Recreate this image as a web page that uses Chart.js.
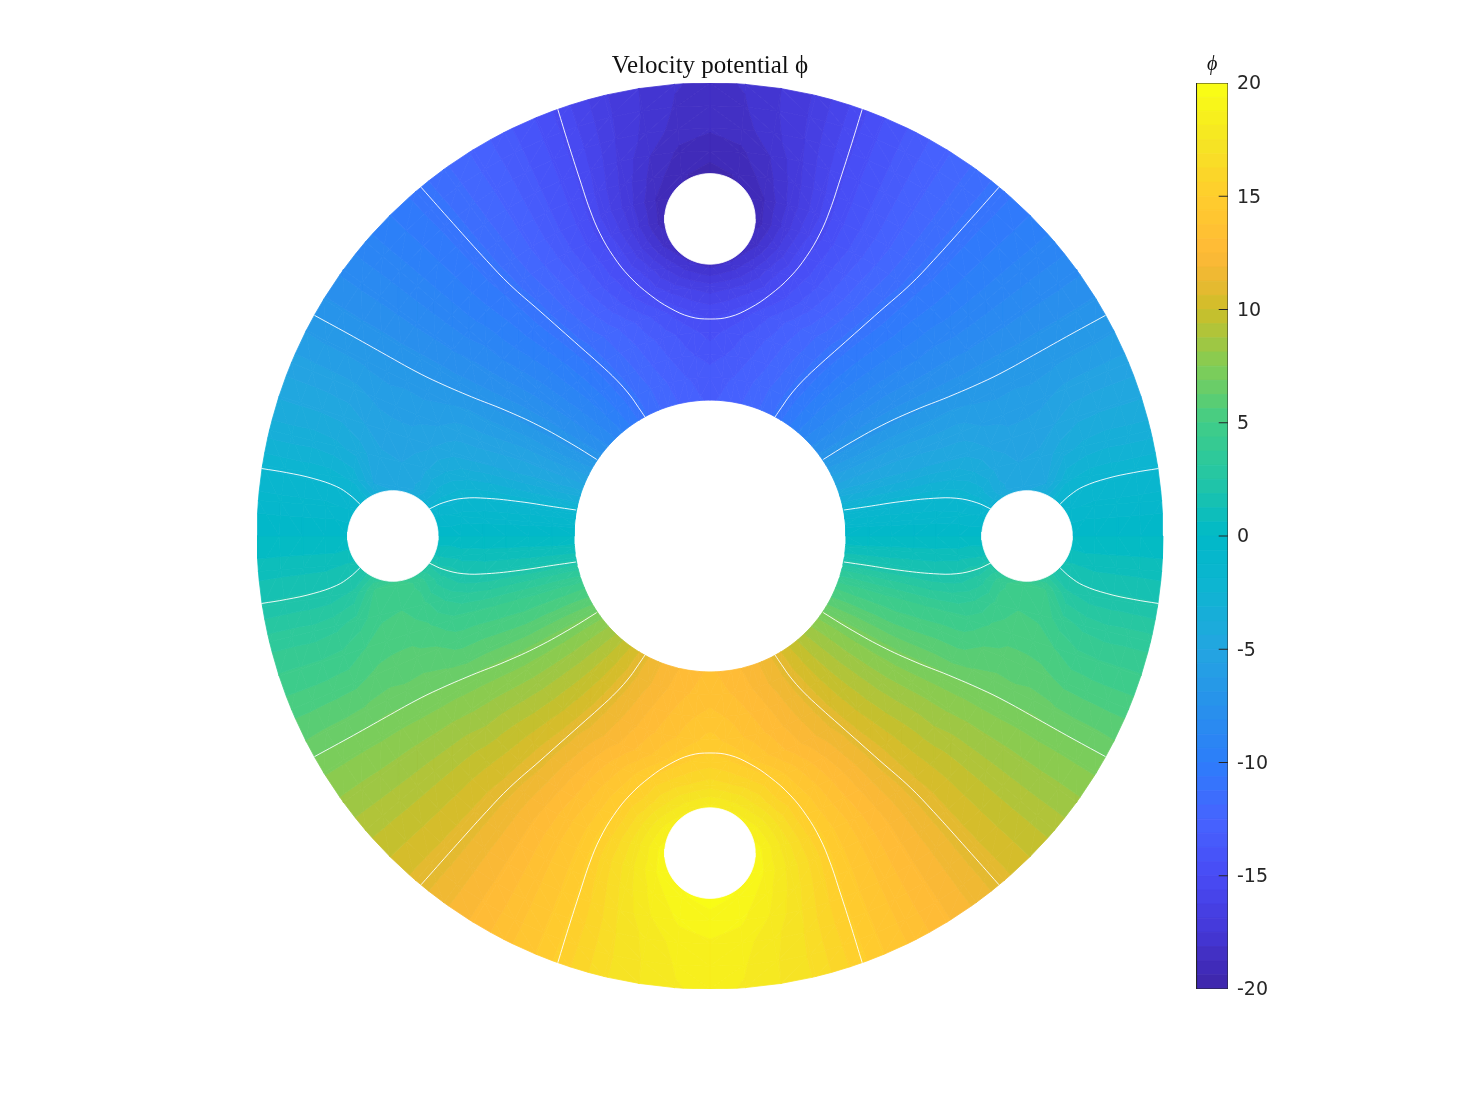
<!DOCTYPE html>
<html>
<head>
<meta charset="utf-8">
<title>Velocity potential</title>
<script src="https://cdn.jsdelivr.net/npm/chart.js@4"></script>
<style>
  html, body { margin: 0; background: #fff; }
  canvas { display: block; }
</style>
</head>
<body>
<canvas id="myChart" width="1420" height="1111"></canvas>
<script>
// polar mesh nodes of the top right quadrant, r and angle in degrees
const ringNodes = [3, 3.5, 4, 4.5, 5, 5.5, 6, 6.5, 7, 7.5, 8, 8.5, 9, 9.5, 10];
const angleNodes = [0, 4.5, 9, 13.5, 18, 22.5, 27, 31.5, 36, 40.5, 45, 49.5, 54, 58.5, 63, 67.5, 72, 76.5, 81, 85.5, 90];

// phi, one row per ring (inner to outer), one column per angle
const phiTable = [
  [0, -.78, -1.56, -2.9, -4, -5, -5.7, -6.5, -7.32, -7.96, -8.6, -9.28, -9.96, -10.64, -11.24, -11.72, -12.12, -12.48, -12.8, -13.04, -13.24],
  [0, -.8, -1.62, -3, -4.2, -5.05, -5.85, -6.7, -7.44, -8.12, -8.76, -9.4, -10.08, -10.72, -11.32, -11.8, -12.28, -12.68, -13.04, -13.28, -13.48],
  [0, -.84, -1.65, -3.05, -4.25, -5.1, -5.9, -6.81, -7.52, -8.2, -8.88, -9.56, -10.24, -10.92, -11.52, -12.08, -12.6, -13.04, -13.44, -13.76, -13.96],
  [0, -.86, -1.71, -3.1, -4.35, -5.1, -5.9, -6.87, -7.6, -8.32, -9.04, -9.72, -10.44, -11.12, -11.76, -12.32, -12.88, -13.36, -13.8, -14.24, -14.6],
  [0, -.89, -1.75, -3.1, -4.4, -5.2, -6, -6.94, -7.7, -8.44, -9.18, -9.92, -10.68, -11.36, -12.04, -12.68, -13.32, -13.96, -14.6, -15.1, -15.35],
  [0, -.99, -1.96, -3.25, -4.5, -5.3, -6.1, -7.08, -7.84, -8.6, -9.36, -10.16, -10.92, -11.76, -12.6, -13.44, -14.28, -15.1, -15.8, -16.3, -16.6],
  [0, -1.33, -2.7, -3.7, -4.6, -5.3, -6.1, -7.2, -7.96, -8.76, -9.56, -10.36, -11.16, -12.08, -13, -13.92, -14.8, -15.85, -17, -17.9, -18.4],
  [0, -1.9, -4.2, -4.6, -5.1, -5.7, -6.3, -7.28, -8.04, -8.8, -9.68, -10.48, -11.32, -12.28, -13.24, -14.2, -15.25, -16.75, -18.2, -19.2, -19.3],
  [0, -2.03, -4.9, -5, -5.4, -5.85, -6.45, -7.32, -8.16, -9, -9.8, -10.6, -11.52, -12.48, -13.48, -14.48, -15.7, -17.25, -18.9, -19.5, -19.6],
  [0, -1.9, -4.4, -4.85, -5.35, -5.85, -6.4, -7.36, -8.2, -9.04, -9.88, -10.72, -11.6, -12.6, -13.56, -14.52, -15.9, -17.35, -18.8, -19.5, -19.8],
  [0, -1.33, -2.6, -4, -5, -5.75, -6.5, -7.41, -8.24, -9.07, -9.9, -10.74, -11.64, -12.6, -13.56, -14.5, -15.8, -17.2, -18.4, -19.3, -19.6],
  [0, -1.08, -2.16, -3.55, -4.55, -5.45, -6.4, -7.41, -8.25, -9.08, -9.92, -10.76, -11.68, -12.6, -13.54, -14.46, -15.65, -17, -18.1, -18.9, -19.15],
  [0, -1.05, -2.09, -3.4, -4.45, -5.4, -6.35, -7.43, -8.26, -9.1, -9.94, -10.78, -11.69, -12.6, -13.52, -14.44, -15.6, -16.85, -17.7, -18.4, -18.65],
  [0, -1.03, -2.05, -3.44, -4.45, -5.37, -6.35, -7.43, -8.28, -9.12, -9.97, -10.82, -11.7, -12.62, -13.51, -14.43, -15.6, -16.8, -17.55, -18.2, -18.45],
  [0, -.99, -2, -3.44, -4.45, -5.37, -6.3, -7.43, -8.28, -9.14, -9.98, -10.83, -11.72, -12.62, -13.52, -14.42, -15.6, -16.8, -17.5, -18.07, -18.3]
];

// white lines in the top right quadrant, [x, y]
const lineLoop = [[3.36, 9.42], [3.13, 8.67], [2.87, 7.86], [2.65, 7.2], [2.43, 6.68], [2.13, 6.17], [1.77, 5.72], [1.32, 5.32], [0.88, 5.03], [0.44, 4.84], [0, 4.79]];
const lineUpper = [[6.38, 7.70], [5.67, 6.90], [4.93, 6.08], [4.42, 5.55], [3.75, 4.96], [3.31, 4.57], [2.87, 4.18], [2.43, 3.79], [2.06, 3.44], [1.77, 3.11], [1.58, 2.84], [1.43, 2.62]];
const lineMiddle = [[8.73, 4.87], [7.87, 4.40], [7.14, 3.99], [6.49, 3.63], [6.0, 3.39], [5.26, 3.07], [4.53, 2.78], [3.79, 2.44], [3.05, 2.03], [2.50, 1.69]];
const lineOuterHole = [[9.90, 1.49], [9.35, 1.40], [8.76, 1.27], [8.24, 1.09], [7.95, 0.905], [7.73, 0.706]];
const lineInnerHole = [[2.96, 0.574], [3.46, 0.647], [4.19, 0.757], [4.93, 0.832], [5.45, 0.832], [5.89, 0.735], [6.20, 0.596]];

// holes: centre x, centre y, radius
const holes = [[0, 7, 1], [0, -7, 1], [7, 0, 1], [-7, 0, 1]];

const barTicks = [-20, -15, -10, -5, 0, 5, 10, 15, 20];
const barBands = 64;
const cmapValues = [-20, -18.75, -17.5, -15, -12.5, -10, -7.5, -5, -2.5, 0, 2.5, 5, 7.5, 10, 11.25, 12.5, 15, 17.5, 20];
const cmapColors = [
  [62, 38, 168], [65, 45, 190], [68, 55, 215], [72, 75, 245], [70, 100, 255], [45, 125, 250], [40, 145, 235],
  [35, 165, 225], [15, 180, 210], [0, 185, 200], [35, 198, 165], [65, 205, 135], [130, 205, 85], [205, 190, 40],
  [235, 185, 50], [255, 185, 55], [255, 205, 45], [245, 230, 35], [250, 255, 20]
];

const bandStep = 40 / barBands;

// colour of one band of the colour bar
function bandColor(band) {
  const mid = -20 + (band + 0.5) * bandStep;
  let k = 0;
  while (k < cmapValues.length - 2 && mid > cmapValues[k + 1]) k++;
  const t = (mid - cmapValues[k]) / (cmapValues[k + 1] - cmapValues[k]);
  const c = cmapColors[k].map((a, i) => Math.round(a + (cmapColors[k + 1][i] - a) * t));
  return `rgb(${c[0]},${c[1]},${c[2]})`;
}

// cut a polygon of {r, a, v} nodes at one level, keeping the side sign * (v - level) >= 0
function cutAt(poly, level, sign) {
  const out = [];
  poly.forEach((p, i) => {
    const q = poly[(i + 1) % poly.length];
    const dp = sign * (p.v - level), dq = sign * (q.v - level);
    if (dp >= 0) out.push(p);
    if ((dp > 0 && dq < 0) || (dp < 0 && dq > 0)) {
      const t = dp / (dp - dq);
      out.push({ r: p.r + (q.r - p.r) * t, a: p.a + (q.a - p.a) * t, v: level });
    }
  });
  return out;
}

function toXY(p, sx, sy) {
  const a = p.a * Math.PI / 180;
  return { x: sx * p.r * Math.cos(a), y: sy * p.r * Math.sin(a) };
}

// 1) filled contour bands, one dataset per band, pieces split by NaN points
const bandPieces = Array.from({ length: barBands }, () => []);
const gap = { x: NaN, y: NaN };

function addTriangle(tri, sx, sy) {
  const vs = tri.map(p => p.v);
  const first = Math.max(0, Math.floor((Math.min(...vs) + 20) / bandStep));
  const last = Math.min(barBands - 1, Math.floor((Math.max(...vs) + 20) / bandStep));
  for (let b = first; b <= last; b++) {
    const lo = -20 + b * bandStep;
    const poly = cutAt(cutAt(tri, lo, 1), lo + bandStep, -1);
    if (poly.length < 3) continue;
    const pts = poly.map(p => toXY(p, sx, sy));
    bandPieces[b].push(...pts, pts[0], gap);
  }
}

[[1, 1], [-1, 1], [1, -1], [-1, -1]].forEach(([sx, sy]) => {
  const node = (i, j) => ({ r: ringNodes[i], a: angleNodes[j], v: sy > 0 ? phiTable[i][j] : -phiTable[i][j] });
  for (let i = 0; i < ringNodes.length - 1; i++) {
    for (let j = 0; j < angleNodes.length - 1; j++) {
      addTriangle([node(i, j), node(i + 1, j), node(i + 1, j + 1)], sx, sy);
      addTriangle([node(i, j), node(i + 1, j + 1), node(i, j + 1)], sx, sy);
    }
  }
});

function shape(points, color, order, yAxisID) {
  return {
    data: points, yAxisID: yAxisID || 'y', order,
    showLine: true, fill: 'shape', tension: 0, pointRadius: 0,
    backgroundColor: color, borderColor: color, borderWidth: 0.8
  };
}

function whiteLine(points) {
  return {
    data: points, yAxisID: 'y', order: 0,
    showLine: true, fill: false, tension: 0.4, pointRadius: 0,
    borderColor: 'rgba(255,255,255,0.9)', borderWidth: 1
  };
}

const datasets = bandPieces.map((pts, b) => shape(pts, bandColor(b), 3));

// 2) holes
holes.forEach(([cx, cy, r]) => {
  const pts = [];
  for (let a = 0; a <= 360; a += 5) {
    const p = toXY({ r, a }, 1, 1);
    pts.push({ x: cx + p.x, y: cy + p.y });
  }
  datasets.push(shape(pts, '#ffffff', 2));
});

// 3) white lines
const mirror = (line, sx, sy) => line.map(([x, y]) => ({ x: sx * x, y: sy * y }));
[1, -1].forEach(sy => {
  datasets.push(whiteLine(mirror(lineLoop, 1, sy).concat(mirror(lineLoop, -1, sy).reverse().slice(1))));
  [1, -1].forEach(sx => {
    [lineUpper, lineMiddle, lineOuterHole, lineInnerHole].forEach(line => {
      datasets.push(whiteLine(mirror(line, sx, sy)));
    });
  });
});

// 4) colour bar
const barLeft = 10.74, barRight = 11.435, tickLeft = 11.23;
for (let b = 0; b < barBands; b++) {
  const v0 = -20 + b * bandStep, v1 = v0 + bandStep;
  datasets.push(shape([{ x: barLeft, y: v0 }, { x: barRight, y: v0 }, { x: barRight, y: v1 }, { x: barLeft, y: v1 }, { x: barLeft, y: v0 }],
    bandColor(b), 3, 'yBar'));
}
const barInk = '#262626';
datasets.push({
  data: [{ x: barLeft, y: -20 }, { x: barRight, y: -20 }, { x: barRight, y: 20 }, { x: barLeft, y: 20 }, { x: barLeft, y: -20 }],
  yAxisID: 'yBar', order: 1, showLine: true, fill: false, pointRadius: 0, borderColor: barInk, borderWidth: 1
});
barTicks.slice(1, -1).forEach(t => {
  datasets.push({
    data: [{ x: tickLeft, y: t }, { x: barRight, y: t }],
    yAxisID: 'yBar', order: 1, showLine: true, fill: false, pointRadius: 0, borderColor: barInk, borderWidth: 1
  });
});

// symbol above the colour bar
const barLabel = {
  id: 'barLabel',
  afterDraw(chart) {
    const ctx = chart.ctx;
    const x = (chart.scales.x.getPixelForValue(barLeft) + chart.scales.x.getPixelForValue(barRight)) / 2;
    ctx.save();
    ctx.font = 'italic 20px "Liberation Serif"';
    ctx.fillStyle = '#111';
    ctx.textAlign = 'center';
    ctx.textBaseline = 'middle';
    ctx.fillText('ϕ', x, 65);
    ctx.restore();
  }
};

new Chart(document.getElementById('myChart').getContext('2d'), {
  type: 'scatter',
  data: { datasets },
  plugins: [barLabel],
  options: {
    responsive: false,
    animation: false,
    events: [],
    layout: { padding: { left: 0, right: 0, top: 0, bottom: 122 } },
    plugins: {
      legend: { display: false },
      tooltip: { enabled: false },
      title: {
        display: true,
        text: 'Velocity potential ϕ',
        color: '#111',
        font: { family: '"Liberation Serif"', size: 25, weight: 'normal', lineHeight: 1.2 },
        padding: { top: 51, bottom: 2 }
      }
    },
    scales: {
      x: { type: 'linear', display: false, min: -10, max: barRight },
      y: {
        type: 'linear', position: 'left', min: -10, max: 10,
        afterFit(s) { s.width = 257; },
        border: { display: false },
        grid: { display: false, drawTicks: false },
        ticks: { display: false }
      },
      yBar: {
        type: 'linear', position: 'right', min: -20, max: 20,
        afterFit(s) { s.width = 192; },
        border: { display: false },
        grid: { display: false, drawTicks: false },
        ticks: {
          stepSize: 5, padding: 9, labelOffset: 1.5, color: barInk,
          font: { family: '"DejaVu Sans"', size: 19 },
          callback: v => String(v)
        }
      }
    }
  }
});
</script>
</body>
</html>
